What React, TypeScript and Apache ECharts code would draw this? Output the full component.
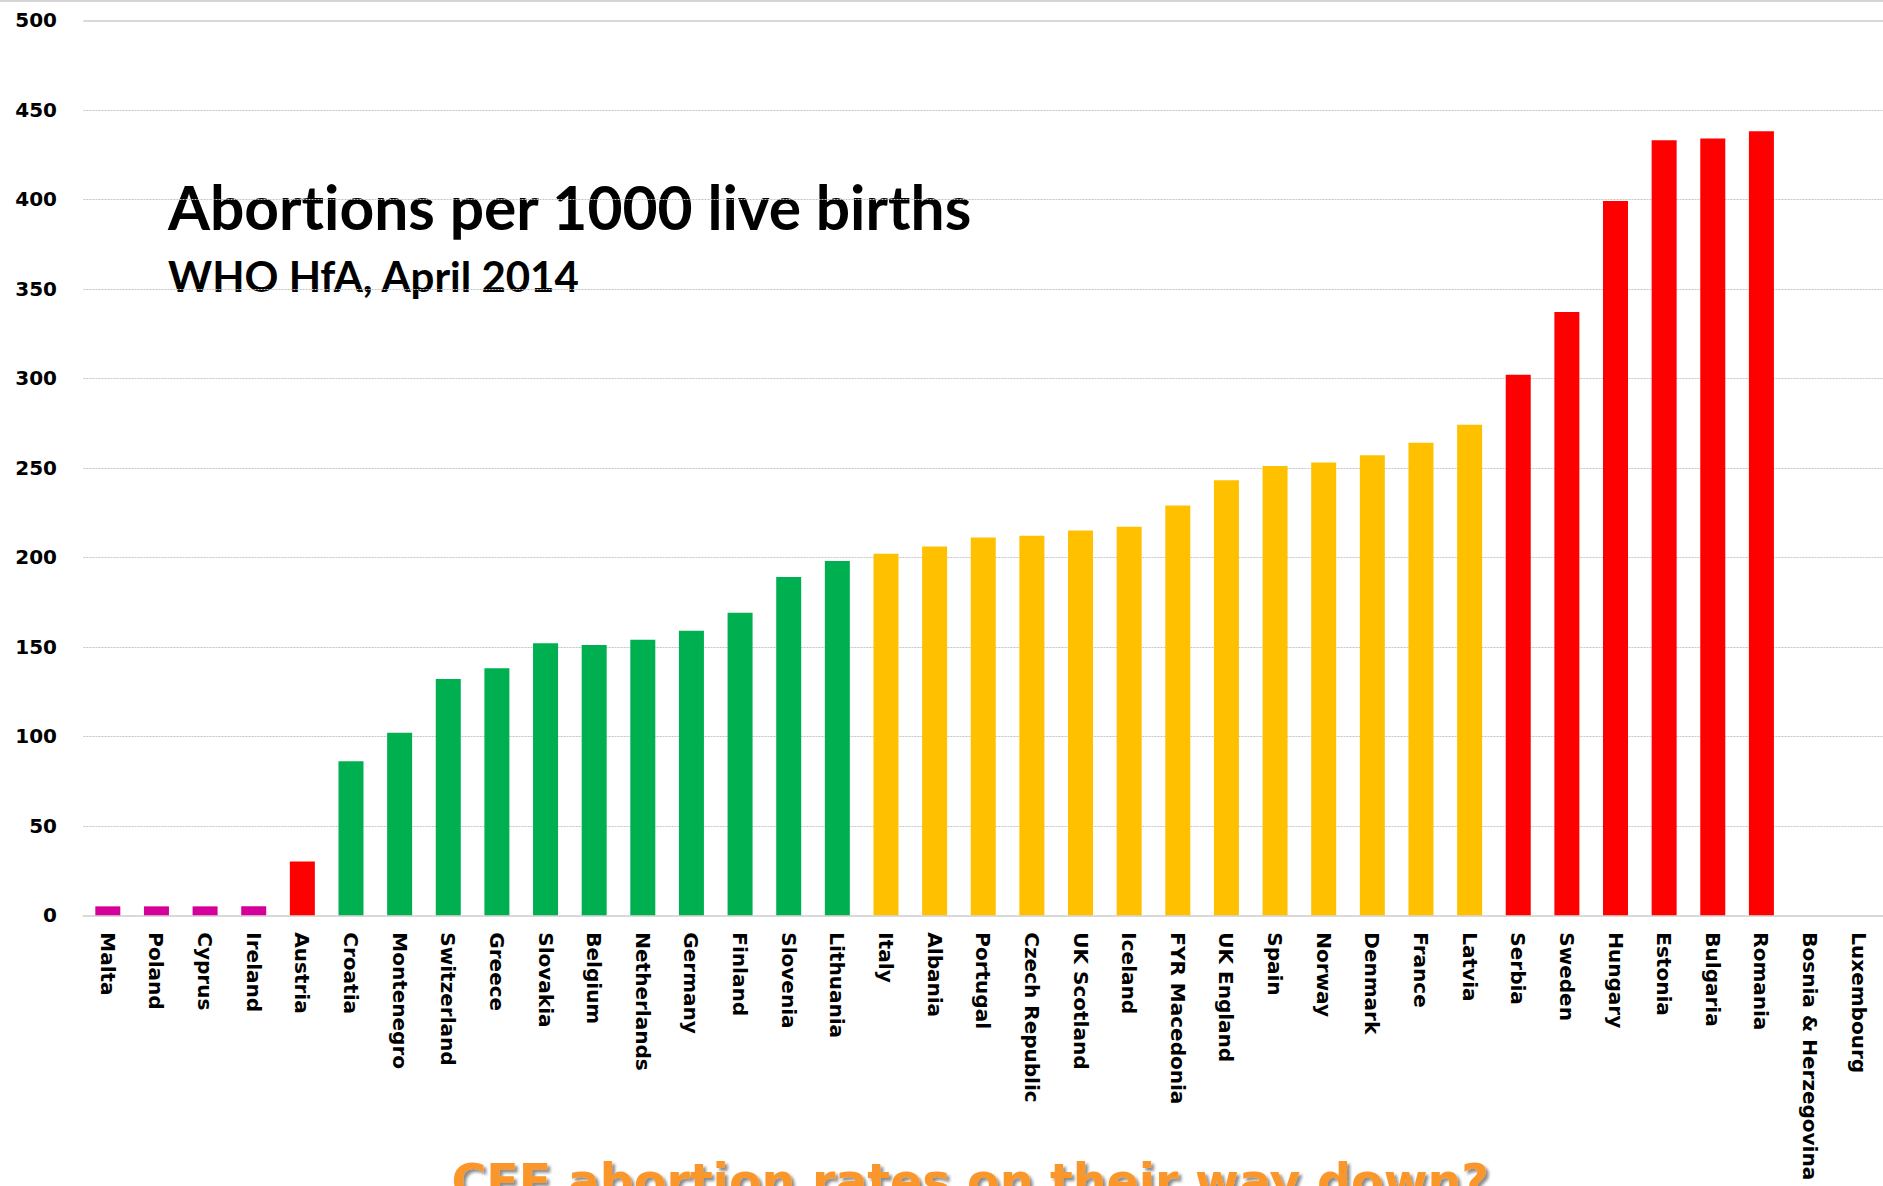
import React, { useEffect, useRef } from "react";
import * as echarts from "echarts";

const countries: string[] = [
  "Malta", "Poland", "Cyprus", "Ireland", "Austria", "Croatia", "Montenegro",
  "Switzerland", "Greece", "Slovakia", "Belgium", "Netherlands", "Germany",
  "Finland", "Slovenia", "Lithuania", "Italy", "Albania", "Portugal",
  "Czech Republic", "UK Scotland", "Iceland", "FYR Macedonia", "UK England",
  "Spain", "Norway", "Denmark", "France", "Latvia", "Serbia", "Sweden",
  "Hungary", "Estonia", "Bulgaria", "Romania", "Bosnia & Herzegovina", "Luxembourg",
];

const abortionsPer1000: (number | null)[] = [
  5, 5, 5, 5, 30, 86, 102, 132, 138, 152, 151, 154, 159, 169, 189, 198,
  202, 206, 211, 212, 215, 217, 229, 243, 251, 253, 257, 264, 274,
  302, 337, 399, 433, 434, 438, null, null,
];

// colour band per country: M = magenta, G = green, Y = amber, R = red
const band: string[] = [
  "M", "M", "M", "M", "R",
  "G", "G", "G", "G", "G", "G", "G", "G", "G", "G", "G",
  "Y", "Y", "Y", "Y", "Y", "Y", "Y", "Y", "Y", "Y", "Y", "Y", "Y",
  "R", "R", "R", "R", "R", "R", "R", "R",
];

const bandColours: Record<string, string> = {
  M: "#D5009A",
  G: "#00B050",
  Y: "#FFC000",
  R: "#FF0000",
};

const yMin = 0;
const yMax = 500;
const yStep = 50;

const title = "Abortions per 1000 live births";
const subtitle = "WHO HfA, April 2014";
const footer = "CEE abortion rates on their way down?";

export default function App() {
  const ref = useRef<HTMLDivElement>(null);

  useEffect(() => {
    if (!ref.current) return;
    const chart = echarts.init(ref.current, undefined, { renderer: "svg" });
    const axisFont = "DejaVu Sans";
    chart.setOption({
      animation: false,
      backgroundColor: "#FFFFFF",
      grid: { left: 83.5, top: 20.3, width: 1813.5, bottom: 270.7, containLabel: false },
      xAxis: {
        type: "category",
        data: countries,
        axisLine: { show: true, lineStyle: { color: "#D9D9D9", width: 2 } },
        axisTick: { show: false },
        axisLabel: {
          rotate: -90,
          interval: 0,
          margin: 17,
          color: "#000000",
          fontFamily: axisFont,
          fontWeight: "bold",
          fontSize: 20,
        },
      },
      yAxis: {
        type: "value",
        min: yMin,
        max: yMax,
        interval: yStep,
        axisLine: { show: false },
        axisTick: { show: false },
        axisLabel: {
          margin: 26.5,
          color: "#000000",
          fontFamily: axisFont,
          fontWeight: "bold",
          fontSize: 20,
        },
        splitLine: { lineStyle: { color: "#C4C4C4", type: [2, 1], width: 1 } },
      },
      series: [
        {
          type: "bar",
          data: abortionsPer1000,
          barWidth: 25,
          itemStyle: {
            color: (p: any) => bandColours[band[p.dataIndex]],
          },
          markLine: {
            silent: true,
            symbol: "none",
            label: { show: false },
            lineStyle: { color: "#D9D9D9", type: "solid", width: 2 },
            data: [{ yAxis: yMax }],
          },
        },
      ],
      graphic: [
        {
          type: "rect",
          shape: { x: 0, y: 0, width: 1883, height: 2 },
          style: { fill: "#D6D6D6" },
        },
        {
          type: "text",
          x: 168,
          y: 206.6,
          style: {
            text: title,
            font: "bold 60.5px Lato",
            fill: "#000000",
            align: "left",
            verticalAlign: "middle",
          },
        },
        {
          type: "text",
          x: 168,
          y: 275.7,
          style: {
            text: subtitle,
            font: "bold 42px Lato",
            fill: "#000000",
            align: "left",
            verticalAlign: "middle",
          },
        },
        {
          type: "text",
          x: 451.5,
          y: 1181,
          style: {
            text: footer,
            font: "bold 47.5px 'DejaVu Sans'",
            fill: "#FA962A",
            align: "left",
            verticalAlign: "middle",
            textShadowColor: "rgba(0,0,0,0.45)",
            textShadowBlur: 3,
            textShadowOffsetX: 3,
            textShadowOffsetY: 3,
          },
        },
      ],
    });
    return () => chart.dispose();
  }, []);

  return (
    <>
      <style>{"svg text { font-variant-ligatures: none !important; font-feature-settings: 'liga' 0, 'clig' 0 !important; }"}</style>
      <div
        ref={ref}
        style={{ position: "fixed", left: 0, top: 0, width: 1883, height: 1186, background: "#FFFFFF" }}
      />
    </>
  );
}
